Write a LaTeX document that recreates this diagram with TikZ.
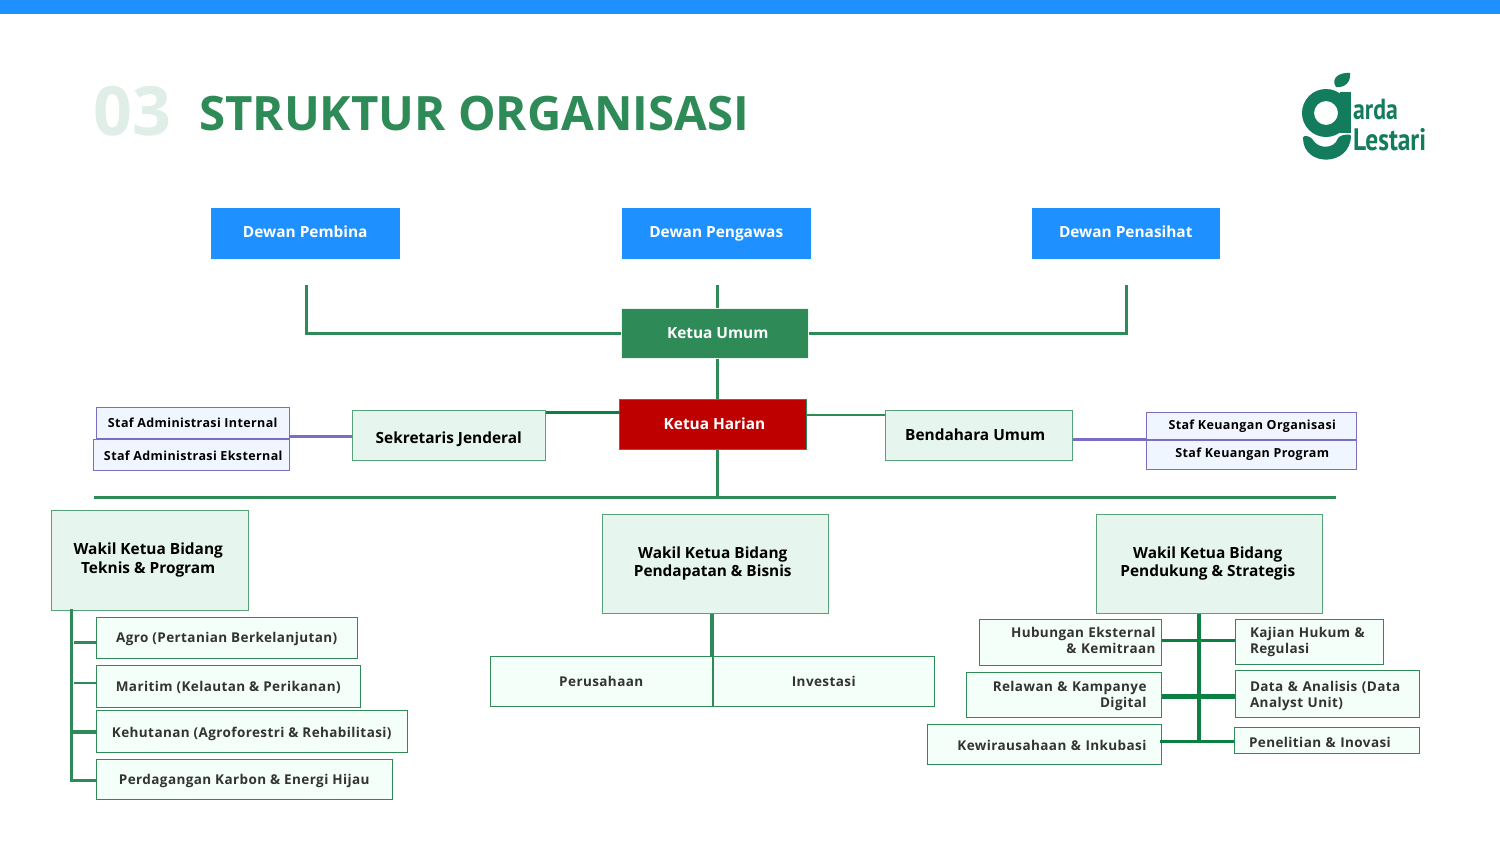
\documentclass[tikz,border=0pt]{standalone}
\usepackage{fontspec}
\setmainfont{Open Sans}
\newfontfamily\spaced[LetterSpace=3]{Open Sans}
\newfontfamily\logofont{PT Sans}
\definecolor{topblue}{HTML}{1E90FF}
\definecolor{sea}{HTML}{2E8B57}
\definecolor{pale}{HTML}{DFEEE6}
\definecolor{mint}{HTML}{E6F5EE}
\definecolor{mintl}{HTML}{F5FFFA}
\definecolor{lav}{HTML}{F0F6FF}
\definecolor{slate}{HTML}{7B6CC8}
\definecolor{dgreen}{HTML}{0B8043}
\definecolor{harian}{HTML}{BE0000}
\definecolor{logog}{HTML}{127C5C}
\definecolor{ink}{HTML}{333333}
\def\tdy{0}
\newcommand\topstrut{\pgfmathsetmacro\tup{max(2*\tdy,0)}\rule[-.18em]{0pt}{\dimexpr1.08em+\tup pt\relax}}
\newcommand\botstrut{\pgfmathsetmacro\tdn{max(-2*\tdy,0)}\rule[\dimexpr-.18em-\tdn pt\relax]{0pt}{\dimexpr1.08em+\tdn pt\relax}}
\newcommand\bx[7]{%
  \pgfmathsetmacro\bw{#4-#2-.5}\pgfmathsetmacro\bh{#5-#3-.5}%
  \node[#6,minimum width=\bw pt,minimum height=\bh pt] (#1) at ({(#2+#4)/2-.25},{(#3+#5)/2-.25}) {\topstrut#7\botstrut};}
\newcommand\fs[2]{\fontsize{#1}{#2}\selectfont}
\newcommand\sh[1]{\hspace*{#1pt}}
\tikzset{
  dy/.code={\def\tdy{#1}},
  base/.style={rectangle,outer sep=0pt,inner sep=0pt,align=center,line width=1pt},
  blue/.style={base,fill=topblue,text=white,dy=-1.5,font=\fs{15.4}{18}\bfseries},
  green/.style={base,fill=sea,draw=mint,text=white,font=\fs{15.4}{18}\bfseries},
  red/.style={base,fill=harian,draw=sea,text=white,font=\fs{15.4}{18}\bfseries},
  mid/.style={base,fill=mint,draw=sea!80,text=black,font=\fs{15.4}{18}\bfseries},
  staf/.style={base,fill=lav,draw=slate,text=black,font=\spaced\fs{12.5}{15}\bfseries},
  sub/.style={base,fill=mintl,draw=sea,text=ink,font=\spaced\fs{13.5}{16}\bfseries},
  rpad/.style={text width=\bw pt-2*#1 pt,inner xsep=#1 pt,align=right},
  lpad/.style={text width=\bw pt-2*#1 pt,inner xsep=#1 pt,align=left},
  lnk/.style={sea,line width=3pt},
  dlnk/.style={dgreen,line width=3pt},
  plnk/.style={slate,line width=3pt},
}
\begin{document}
\begin{tikzpicture}[x=1pt,y=-1pt]
\useasboundingbox (0,0) rectangle (1500,844);
\fill[white] (-1,-1) rectangle (1502,846);
\fill[topblue] (-1,-1) rectangle (1502,14);
% title
\node[text=pale,font=\fs{68}{70}\bfseries,inner sep=0pt] (num) at (132.5,111.5) {03};
\node[text=sea,font=\fs{47.4}{50}\bfseries,inner sep=0pt,anchor=west] (title) at (199,113.5) {STRUKTUR ORGANISASI};
% logo
\fill[logog,even odd rule] (1326,113) circle (24) (1326,113) circle (12);
\fill[logog] (1340,92) rectangle (1350.5,133);
\fill[logog] (1336,87) .. controls (1330,78) and (1340,72) .. (1350,73) .. controls (1351,82) and (1345,88) .. (1336,87) -- cycle;
\fill[logog,rounded corners=1pt] (1303,138) .. controls (1304,167) and (1350,167) .. (1351,135)
  .. controls (1347,134) and (1341,135) .. (1338,138) .. controls (1334,149) and (1319,149) .. (1313,140) .. controls (1310,136) and (1304,135) .. (1303,138) -- cycle;
\node[logog,font=\logofont\fs{29}{29}\bfseries,xscale=.82,inner sep=0pt,anchor=west] (lg1) at (1353,110) {arda};
\node[logog,font=\logofont\fs{31}{31}\bfseries,xscale=.82,inner sep=0pt,anchor=west] (lg2) at (1353,140) {Lestari};
% boxes
\bx{pembina}{211}{208}{400}{259}{blue}{Dewan Pembina}
\bx{pengawas}{622}{208}{811}{259}{blue}{Dewan Pengawas}
\bx{penasihat}{1032}{208}{1220}{259}{blue}{Dewan Penasihat}
\bx{ku}{621}{308}{809}{359}{green}{\sh{6}Ketua Umum}
\bx{kh}{619.5}{399.5}{807}{449.5}{red}{\sh{3}Ketua Harian}
\bx{sek}{352}{410}{546}{461}{mid,dy=2.5}{Sekretaris Jenderal}
\bx{ben}{885}{410}{1073}{461}{mid}{\sh{-7}Bendahara Umum}
\bx{sa1}{96}{407}{290}{439}{staf}{Staf Administrasi Internal}
\bx{sa2}{93}{439}{290}{471}{staf,dy=1}{\sh{4}Staf Administrasi Eksternal}
\bx{sk1}{1146}{412}{1357}{440}{staf}{\sh{2}Staf Keuangan Organisasi}
\bx{sk2}{1146}{440}{1357}{470}{staf,dy=-2}{\sh{2}Staf Keuangan Program}
\bx{w1}{51}{510}{249}{611}{mid,dy=-1.5}{\sh{-3}Wakil Ketua Bidang\\[1pt]\sh{-3}Teknis \& Program}
\bx{w2}{602}{514}{829}{614}{mid,dy=-2}{\sh{-5}Wakil Ketua Bidang\\\sh{-5}Pendapatan \& Bisnis}
\bx{w3}{1096}{514}{1323}{614}{mid,dy=-2}{\sh{-3}Wakil Ketua Bidang\\\sh{-3}Pendukung \& Strategis}
\bx{t1}{96}{617}{358}{659}{sub}{Agro (Pertanian Berkelanjutan)}
\bx{t2}{96}{665}{361}{708}{sub}{Maritim (Kelautan \& Perikanan)}
\bx{t3}{96}{710}{408}{753}{sub,dy=1.5}{Kehutanan (Agroforestri \& Rehabilitasi)}
\bx{t4}{96}{759}{393}{800}{sub,dy=1}{Perdagangan Karbon \& Energi Hijau}
\bx{b1}{490}{656}{713}{707}{sub}{Perusahaan}
\bx{b2}{713}{656}{935}{707}{sub}{Investasi}
\bx{r1}{979}{619}{1162}{666}{sub,rpad=6,dy=-2}{Hubungan Eksternal\\\& Kemitraan}
\bx{r2}{966}{672}{1162}{718}{sub,rpad=15}{Relawan \& Kampanye\\Digital}
\bx{r3}{927}{724}{1162}{765}{sub,rpad=15,dy=1}{Kewirausahaan \& Inkubasi}
\bx{s1}{1235}{619}{1384}{665}{sub,lpad=15,dy=-1}{\mbox{Kajian Hukum \&}\\Regulasi}
\bx{s2}{1235}{670}{1420}{718}{sub,lpad=15,dy=1}{Data \& Analisis (Data\\Analyst Unit)}
\bx{s3}{1234}{727}{1420}{754}{sub,lpad=15,dy=2.5}{Penelitian \& Inovasi}
% free ends
\coordinate (fl) at (306,285);
\coordinate (fc) at (717,285);
\coordinate (fr) at (1126,285);
\coordinate (busl) at (94,497);
\coordinate (busr) at (1336,497);
\coordinate (busc) at (717,497);
\coordinate (jl) at (71,780);
\coordinate (jm) at (712,657);
\coordinate (jr) at (1199,742);
% connectors
\draw[lnk] (fl) |- (ku.west |- 0,333);
\draw[lnk] (fr) |- (ku.east |- 0,333);
\draw[lnk] (fc) -- (fc |- ku.north);
\draw[lnk] (fc |- ku.south) -- (fc |- kh.north);
\draw[lnk] (fc |- kh.south) -- (busc);
\draw[lnk] (busl) -- (busr);
\draw[dlnk] (sek.east |- 0,412) -- (kh.west |- 0,412);
\draw[lnk,line width=2pt] (kh.east |- 0,415) -- (ben.west |- 0,415);
\draw[plnk] (sa1.east |- 0,436) -- (sek.west |- 0,436);
\draw[plnk] (ben.east |- 0,439) -- (sk1.west |- 0,439);
% left branch
\draw[lnk,line cap=rect] (jl |- w1.south) -- (jl);
\draw[lnk] (74,642) coordinate (a1) -- (a1 -| t1.west);
\draw[lnk,line width=2.5pt] (74,683) coordinate (a2) -- (a2 -| t2.west);
\draw[lnk,line width=4pt] (71,732) coordinate (a3) -- (a3 -| t3.west);
\draw[lnk] (jl) -- (jl -| t4.west);
% middle branch
\draw[lnk,line width=4pt] (jm |- w2.south) -- (jm);
% right branch
\draw[dlnk,line width=4.5pt] (jr |- w3.south) -- (jr);
\draw[dlnk] (r1.east |- 0,640) -- (s1.west |- 0,640);
\draw[dlnk,line width=5pt] (r2.east |- 0,696) -- (s2.west |- 0,696);
\draw[dlnk] (1160,741) -- (s3.west |- 0,741);
\end{tikzpicture}
\end{document}
